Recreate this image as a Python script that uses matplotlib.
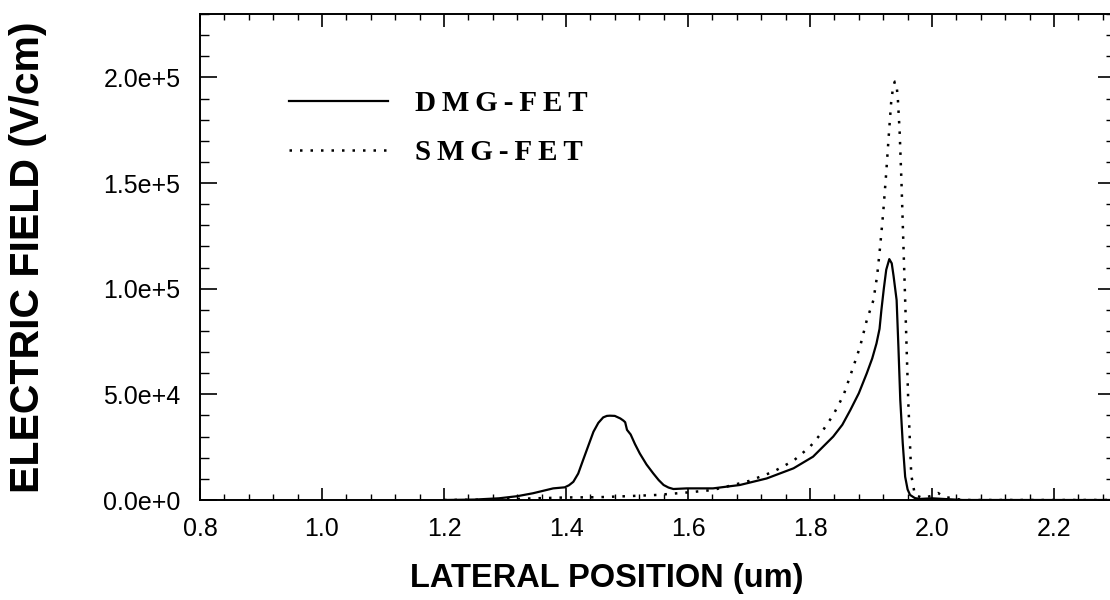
import math
import matplotlib
matplotlib.use("Agg")
import matplotlib.pyplot as plt
from matplotlib.ticker import MultipleLocator, FuncFormatter

# ---- data ----
dmg_x = [1.20, 1.25, 1.29, 1.32, 1.346, 1.379, 1.398, 1.405, 1.412, 1.420, 1.428, 1.437,
         1.445, 1.453, 1.461, 1.467, 1.472, 1.480, 1.489, 1.494, 1.497, 1.500, 1.506,
         1.513, 1.521, 1.532, 1.543, 1.552, 1.560, 1.568, 1.576, 1.598, 1.641, 1.685,
         1.729, 1.773, 1.805, 1.838, 1.853, 1.866, 1.880, 1.893, 1.902, 1.909, 1.914,
         1.917, 1.921, 1.925, 1.930, 1.934, 1.937, 1.942, 1.945, 1.948, 1.952, 1.956,
         1.960, 1.964, 1.972, 1.980, 2.000, 2.050, 2.300]
dmg_y = [0, 200, 800, 1800, 3200, 5500, 6000, 7000, 8600, 12500, 18900, 26000,
         32300, 36500, 39100, 39800, 39900, 39800, 38600, 37600, 36800, 33200, 31000,
         26500, 22000, 16800, 12600, 9400, 7100, 5900, 5200, 5500, 5500, 7100,
         10200, 15000, 20500, 30000, 35600, 42500, 50500, 59900, 67000, 74100, 81000,
         89800, 100000, 109000, 114000, 112000, 106000, 94600, 72000, 47300, 27000, 11000,
         5000, 2400, 900, 500, 800, 0, 0]

smg_x = [1.20, 1.29, 1.35, 1.40, 1.45, 1.50, 1.55, 1.60, 1.64, 1.674, 1.70, 1.740,
         1.773, 1.800, 1.816, 1.838, 1.855, 1.871, 1.882, 1.893, 1.904, 1.910, 1.915,
         1.920, 1.925, 1.929, 1.933, 1.936, 1.939, 1.942, 1.944, 1.947, 1.950, 1.953,
         1.956, 1.961, 1.966, 1.972, 1.985, 2.000, 2.010, 2.020, 2.050, 2.300]
smg_y = [0, 200, 800, 1200, 1300, 1800, 2400, 3600, 4700, 7100, 9000, 13400,
         18600, 25200, 30700, 40200, 49600, 63000, 72500, 85000, 94600, 106000, 120000,
         136000, 155000, 172000, 188000, 195000, 198000, 196000, 190000, 174000, 150000, 122000,
         94600, 47300, 11800, 2300, 1000, 2000, 3300, 1500, 0, 0]

series_labels = ["DMG-FET", "SMG-FET"]
x_label = "LATERAL POSITION (um)"
y_label = "ELECTRIC FIELD (V/cm)"

# ---- figure ----
W, H = 1110, 600
fig = plt.figure(figsize=(W / 100, H / 100), dpi=100)
ax = fig.add_axes([200 / W, 100 / H, 915 / W, 486 / H])

ax.plot(dmg_x, dmg_y, color="black", lw=1.6, solid_joinstyle="round")
ax.plot(smg_x, smg_y, color="black", lw=1.8, linestyle=(0, (1, 3.2)))

ax.set_xlim(0.8, 2.3)
ax.set_ylim(0, 2.3e5)

ax.xaxis.set_major_locator(MultipleLocator(0.2))
ax.xaxis.set_minor_locator(MultipleLocator(0.04))
ax.yaxis.set_major_locator(MultipleLocator(5e4))
ax.yaxis.set_minor_locator(MultipleLocator(1e4))


def yfmt(v, pos):
    if v == 0:
        return "0.0e+0"
    e = int(math.floor(math.log10(abs(v))))
    return f"{v / 10 ** e:.1f}e+{e}"


ax.yaxis.set_major_formatter(FuncFormatter(yfmt))
ax.xaxis.set_major_formatter(FuncFormatter(lambda v, p: f"{v:.1f}"))

ax.tick_params(axis="x", which="major", direction="in", length=9, width=1.2,
               top=True, pad=12)
ax.tick_params(axis="x", which="minor", direction="in", length=4.5, width=1.0, top=True)
ax.tick_params(axis="y", which="major", direction="in", length=12, width=1.2,
               right=True, pad=14)
ax.tick_params(axis="y", which="minor", direction="in", length=6.5, width=1.0, right=True)
for lab in ax.get_xticklabels() + ax.get_yticklabels():
    lab.set_fontfamily("Liberation Sans")
    lab.set_fontsize(18)

for s in ax.spines.values():
    s.set_linewidth(1.4)

fig.text(28 / W, 1 - 257 / H, y_label, rotation=90, ha="center", va="center",
         family="Liberation Sans", fontweight="bold", fontsize=29.5)
fig.text(607 / W, 1 - 579 / H, x_label, ha="center", va="center",
         family="Liberation Sans", fontweight="bold", fontsize=23.5)

leg = ax.legend(series_labels, loc="upper left",
                bbox_to_anchor=(63 / 915, 1 - 50 / 486), frameon=False,
                prop=dict(family="Liberation Serif", weight="bold", size=21),
                handlelength=3.4, handletextpad=0.9, labelspacing=0.75)
for t in leg.get_texts():
    t.set_text("\u2009".join(t.get_text()))

fig.savefig("out.png", dpi=100)
